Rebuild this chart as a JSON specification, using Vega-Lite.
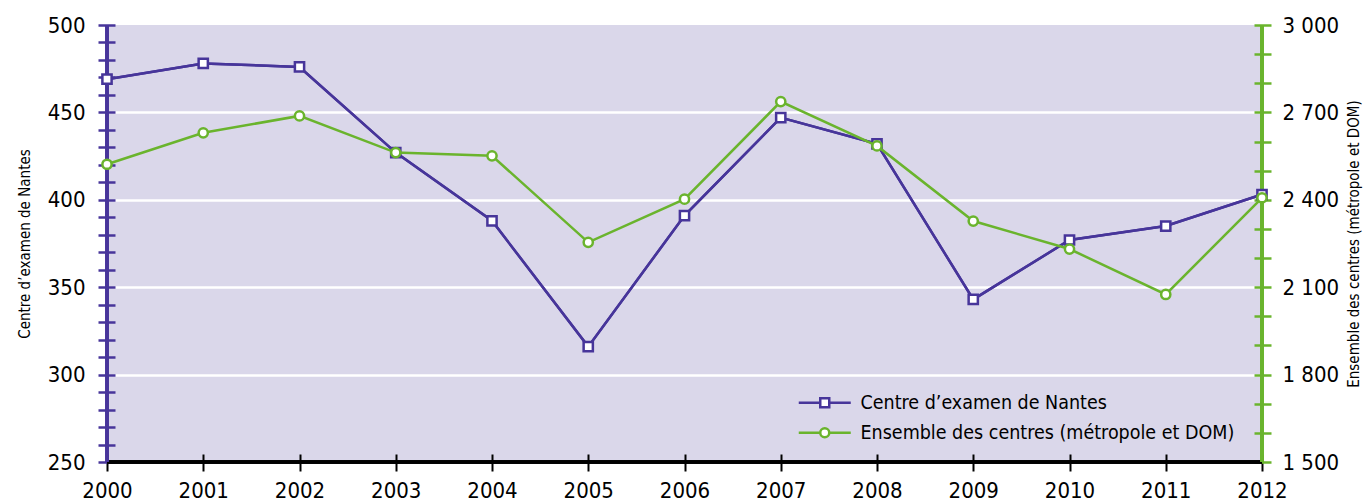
{
  "$schema": "https://vega.github.io/schema/vega-lite/v6.json",
  "width": 1155,
  "height": 437,
  "autosize": {"type": "none"},
  "padding": {"left": 107, "top": 25, "right": 105, "bottom": 42},
  "background": "white",
  "config": {
    "font": "DejaVu Sans Condensed",
    "view": {"stroke": null, "fill": "#dad7ea"},
    "axis": {"labelFont": "DejaVu Sans Condensed", "titleFont": "DejaVu Sans Condensed", "labelColor": "black", "titleColor": "black", "titleFontWeight": "normal"},
    "legend": {"labelFont": "DejaVu Sans Condensed"}
  },
  "data": {
    "values": [
      {"year": 2000, "nantes": 469, "ensemble": 2522},
      {"year": 2001, "nantes": 478, "ensemble": 2630},
      {"year": 2002, "nantes": 476, "ensemble": 2688},
      {"year": 2003, "nantes": 427, "ensemble": 2562},
      {"year": 2004, "nantes": 388, "ensemble": 2551},
      {"year": 2005, "nantes": 316, "ensemble": 2254},
      {"year": 2006, "nantes": 391, "ensemble": 2402},
      {"year": 2007, "nantes": 447, "ensemble": 2737},
      {"year": 2008, "nantes": 432, "ensemble": 2585},
      {"year": 2009, "nantes": 343, "ensemble": 2327},
      {"year": 2010, "nantes": 377, "ensemble": 2231},
      {"year": 2011, "nantes": 385, "ensemble": 2075},
      {"year": 2012, "nantes": 403, "ensemble": 2407}
    ]
  },
  "layer": [
    {
      "layer": [
        {
          "mark": {"type": "line", "strokeWidth": 2.5},
          "encoding": {
            "x": {
              "field": "year", "type": "quantitative",
              "scale": {"domain": [2000, 2012], "nice": false, "zero": false},
              "axis": {
                "values": [2000, 2001, 2002, 2003, 2004, 2005, 2006, 2007, 2008, 2009, 2010, 2011, 2012],
                "tickCount": 100,
                "format": "d", "offset": -8, "domain": false, "grid": false,
                "tickSize": 17, "tickColor": "black", "tickWidth": 2,
                "labelFontSize": 22, "labelPadding": 9, "labelFlush": false, "labelOverlap": false,
                "title": null
              }
            },
            "y": {
              "field": "nantes", "type": "quantitative",
              "scale": {"domain": [250, 500], "nice": false, "zero": false},
              "axis": {
                "orient": "left",
                "values": [250, 260, 270, 280, 290, 300, 310, 320, 330, 340, 350, 360, 370, 380, 390, 400, 410, 420, 430, 440, 450, 460, 470, 480, 490, 500],
                "tickCount": 100,
                "offset": -8, "domain": false,
                "tickSize": 17, "tickColor": "#47359a", "tickWidth": 2.5,
                "labelExpr": "datum.value % 50 === 0 ? datum.label : ''",
                "labelFontSize": 22, "labelPadding": 13, "labelOverlap": false, "labelBound": false,
                "grid": true, "gridColor": "white", "gridWidth": 2.5,
                "gridOpacity": {"condition": {"test": "datum.value % 50 === 0 && datum.value > 250 && datum.value < 500", "value": 1}, "value": 0},
                "title": "Centre d’examen de Nantes", "titleFontSize": 15, "titlePadding": 15
              }
            },
            "color": {
              "datum": "Centre d’examen de Nantes",
              "scale": {"domain": ["Centre d’examen de Nantes", "Ensemble des centres (métropole et DOM)"], "range": ["#47359a", "#6ab42d"]},
              "legend": {
                "orient": "none", "legendX": 708, "legendY": 368, "title": null,
                "labelFontSize": 19.5, "labelColor": "black", "labelLimit": 0,
                "symbolSize": 100, "labelOffset": 26, "rowPadding": 9, "padding": 0,
                "symbolStrokeWidth": 2.5,
                "encode": {
                  "symbols": {
                    "update": {
                      "shape": {"signal": "indexof(datum.value, 'Nantes') >= 0 ? 'M-5.2,0H-0.9M0.9,0H5.2M-0.9,-0.9H0.9V0.9H-0.9Z' : 'M-5.2,0H-0.9M0.9,0H5.2M-0.9,0A0.9,0.9,0,1,1,0.9,0A0.9,0.9,0,1,1,-0.9,0Z'"},
                      "fill": {"value": "white"},
                      "strokeWidth": {"value": 2.5}
                    }
                  }
                }
              }
            }
          }
        },
        {
          "mark": {"type": "rule", "color": "black", "strokeWidth": 2.5},
          "encoding": {"y": {"datum": 250, "type": "quantitative"}}
        },
        {
          "mark": {"type": "rule", "color": "#47359a", "strokeWidth": 2.5},
          "encoding": {"x": {"datum": 2000, "type": "quantitative"}}
        },
        {
          "mark": {"type": "rule", "color": "#6ab42d", "strokeWidth": 2.5},
          "encoding": {"x": {"datum": 2012, "type": "quantitative"}}
        },
        {
          "mark": {"type": "line", "strokeWidth": 2.5},
          "encoding": {
            "x": {"field": "year", "type": "quantitative"},
            "y": {"field": "nantes", "type": "quantitative"},
            "color": {"datum": "Centre d’examen de Nantes"}
          }
        },
        {
          "mark": {"type": "point", "filled": false, "fill": "white", "shape": "square", "size": 85, "strokeWidth": 2.5, "opacity": 1},
          "encoding": {
            "x": {"field": "year", "type": "quantitative"},
            "y": {"field": "nantes", "type": "quantitative"},
            "color": {"datum": "Centre d’examen de Nantes"}
          }
        }
      ]
    },
    {
      "layer": [
        {
          "mark": {"type": "line", "strokeWidth": 2.5},
          "encoding": {
            "x": {"field": "year", "type": "quantitative"},
            "y": {
              "field": "ensemble", "type": "quantitative",
              "scale": {"domain": [1500, 3000], "nice": false, "zero": false},
              "axis": {
                "orient": "right",
                "values": [1500, 1600, 1700, 1800, 1900, 2000, 2100, 2200, 2300, 2400, 2500, 2600, 2700, 2800, 2900, 3000],
                "tickCount": 100,
                "offset": -8, "domain": false, "grid": false,
                "tickSize": 17, "tickColor": "#6ab42d", "tickWidth": 2.5,
                "labelExpr": "datum.value % 300 === 0 ? replace(format(datum.value, ','), ',', ' ') : ''",
                "labelFontSize": 22, "labelPadding": 11, "labelOverlap": false, "labelBound": false,
                "title": "Ensemble des centres (métropole et DOM)", "titleFontSize": 15, "titleAngle": 270, "titleBaseline": "top", "titlePadding": 8
              }
            },
            "color": {"datum": "Ensemble des centres (métropole et DOM)"}
          }
        },
        {
          "mark": {"type": "point", "filled": false, "fill": "white", "shape": "circle", "size": 85, "strokeWidth": 2.5, "opacity": 1},
          "encoding": {
            "x": {"field": "year", "type": "quantitative"},
            "y": {"field": "ensemble", "type": "quantitative"},
            "color": {"datum": "Ensemble des centres (métropole et DOM)"}
          }
        }
      ]
    }
  ],
  "resolve": {"scale": {"y": "independent"}, "axis": {"y": "independent"}}
}
